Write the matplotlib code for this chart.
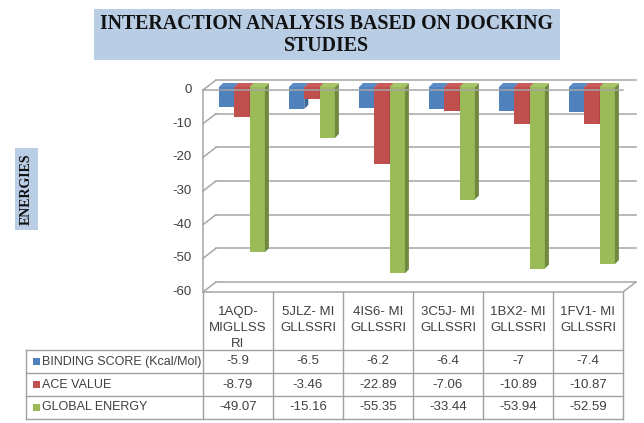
import matplotlib
matplotlib.use("Agg")
import matplotlib.pyplot as plt
from matplotlib.patches import Rectangle, Polygon

# ---------------- data ----------------
categories = ['1AQD-\nMIGLLSS\nRI', '5JLZ- MI\nGLLSSRI', '4IS6- MI\nGLLSSRI',
              '3C5J- MI\nGLLSSRI', '1BX2- MI\nGLLSSRI', '1FV1- MI\nGLLSSRI']
series_names = ['BINDING SCORE (Kcal/Mol)', 'ACE VALUE', 'GLOBAL ENERGY']
binding = [-5.9, -6.5, -6.2, -6.4, -7, -7.4]
ace = [-8.79, -3.46, -22.89, -7.06, -10.89, -10.87]
global_energy = [-49.07, -15.16, -55.35, -33.44, -53.94, -52.59]
value_labels = [['-5.9', '-6.5', '-6.2', '-6.4', '-7', '-7.4'],
                ['-8.79', '-3.46', '-22.89', '-7.06', '-10.89', '-10.87'],
                ['-49.07', '-15.16', '-55.35', '-33.44', '-53.94', '-52.59']]
yticks = [0, -10, -20, -30, -40, -50, -60]
title_lines = ['INTERACTION ANALYSIS BASED ON DOCKING', 'STUDIES']
ylabel = 'ENERGIES'

front_colors = ['#4F81BD', '#C0504D', '#9BBB59']
side_colors = ['#3A6598', '#963C3A', '#71893F']
top_colors = ['#5B8CC8', '#C95C59', '#A6C566']
grid_c = '#A6A6A6'
text_c = '#404040'

W, H = 644, 423
fig = plt.figure(figsize=(W / 100, H / 100), dpi=100)

# ---------------- layout (pixels) ----------------
X0 = 203.0      # pixel x of category 0 left edge
UX = 70.0       # px per category
Y0 = 90.0       # pixel y of value 0
UY = (292.0 - 90.0) / 60.0  # px per value unit
AX_TOP, AX_BOT, AX_RIGHT = 70.0, 292.0, 644.0

ax = fig.add_axes([X0 / W, 1 - AX_BOT / H, (AX_RIGHT - X0) / W, (AX_BOT - AX_TOP) / H])
ax.set_xlim(0, (AX_RIGHT - X0) / UX)
ax.set_ylim(-60, (Y0 - AX_TOP) / UY)
ax.axis('off')

n = len(categories)
DX, DY = 13 / UX, 10 / UY          # wall depth
g0, bw = 16 / UX, 15.3 / UX        # group start / bar width
bdy = 3 / UY                       # bar depth offset
ddx, ddy = 4 / UX, 4 / UY          # bar 3d depth

# back wall gridlines and left wall
for v in yticks:
    ax.plot([DX, n + DX], [v + DY, v + DY], color=grid_c, lw=1.1, zorder=1, clip_on=False)
    ax.plot([0, DX], [v, v + DY], color=grid_c, lw=1.1, zorder=1, clip_on=False)
ax.plot([0, 0], [0, -60], color=grid_c, lw=1.1, zorder=1, clip_on=False)
# floor
ax.plot([0, n, n + DX], [-60, -60, -60 + DY], color=grid_c, lw=1.1, zorder=1, clip_on=False)

# y tick labels
for v in yticks:
    ax.text(-11 / UX, v, str(v), ha='right', va='center', fontsize=9.5,
            color=text_c, family='Liberation Sans')

# bars
data = [binding, ace, global_energy]
for j, vals in enumerate(data):
    xs = [i + g0 + j * bw for i in range(n)]
    bars = ax.bar(xs, vals, width=bw, bottom=bdy, align='edge', color=front_colors[j],
                  edgecolor='none', zorder=3 + j * 3, clip_on=False)
    for b in bars:
        x1 = b.get_x()
        x2 = x1 + b.get_width()
        top = b.get_y()
        bot = b.get_y() + b.get_height()
        side = Polygon([(x2, top), (x2 + ddx, top + ddy), (x2 + ddx, bot + ddy), (x2, bot)],
                       closed=True, facecolor=side_colors[j], edgecolor='none',
                       zorder=3 + j * 3 + 1, clip_on=False)
        ax.add_patch(side)
        topf = Polygon([(x1, top), (x2, top), (x2 + ddx, top + ddy), (x1 + ddx, top + ddy)],
                       closed=True, facecolor=top_colors[j], edgecolor='none',
                       zorder=3 + j * 3 + 2, clip_on=False)
        ax.add_patch(topf)

# front zero line
ax.plot([0, n], [0, 0], color=grid_c, lw=1.1, zorder=20, clip_on=False)

# ---------------- overlay (pixel coords) ----------------
ov = fig.add_axes([0, 0, 1, 1])
ov.set_xlim(0, W)
ov.set_ylim(H, 0)
ov.axis('off')
ov.patch.set_alpha(0)

# title box
ov.add_patch(Rectangle((94, 9), 466, 51, facecolor='#B9CDE5', edgecolor='none'))
for k, line in enumerate(title_lines):
    ov.text(327, 24 + 22 * k, line, ha='center', va='center', fontsize=14.3,
            fontweight='bold', family='Liberation Serif', color='#111111')

# ylabel box
ov.add_patch(Rectangle((15, 148), 23, 82, facecolor='#B9CDE5', edgecolor='none'))
ov.text(26.5, 189, ylabel, ha='center', va='center', rotation=90, fontsize=10,
        fontweight='bold', family='Liberation Serif', color='#111111')

# table
tc = '#A0A0A0'
row_y = [350, 373, 396, 419]
for k in range(n + 1):
    ov.plot([X0 + UX * k] * 2, [292, 419], color=tc, lw=1)
for y in row_y:
    ov.plot([26, X0 + UX * n], [y, y], color=tc, lw=1)
ov.plot([26, 26], [350, 419], color=tc, lw=1)

for i, lab in enumerate(categories):
    for k, line in enumerate(lab.split('\n')):
        ov.text(X0 + UX * (i + 0.5), 312 + 16 * k, line, ha='center', va='center',
                fontsize=9.5, color=text_c, family='Liberation Sans')

for r, name in enumerate(series_names):
    yc = (row_y[r] + row_y[r + 1]) / 2
    ov.add_patch(Rectangle((33, yc - 3.5), 7, 7, facecolor=front_colors[r], edgecolor='none'))
    ov.text(42, yc, name, ha='left', va='center', fontsize=9, color=text_c,
            family='Liberation Sans')
    for i in range(n):
        ov.text(X0 + UX * (i + 0.5), yc, value_labels[r][i], ha='center', va='center',
                fontsize=9.5, color=text_c, family='Liberation Sans')

fig.savefig('out.png', dpi=100)
